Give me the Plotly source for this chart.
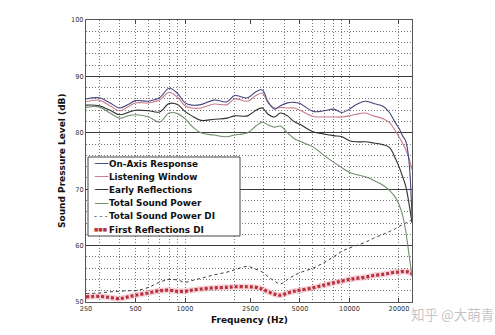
import plotly.graph_objects as go

# ---------------- data ----------------
freq = [250, 300, 350, 400, 450, 500, 600, 700, 800, 900, 1000, 1100, 1250, 1500,
        1800, 2000, 2400, 2700, 2950, 3200, 3500, 3800, 4200, 4600, 5000, 6000,
        7000, 8000, 9000, 10000, 11000, 12500, 14000, 16000, 17500, 19000, 20000,
        21000, 22000, 23000, 24000]

on_axis = [86.0, 86.2, 85.3, 84.4, 85.0, 85.7, 85.6, 86.2, 87.9, 87.0, 85.3, 84.9,
           85.0, 85.8, 85.5, 86.6, 86.2, 87.3, 87.6, 85.5, 84.2, 84.8, 85.3, 85.4,
           85.2, 83.8, 83.9, 84.2, 83.6, 84.2, 85.0, 85.6, 85.2, 84.7, 83.6, 81.8,
           80.8, 79.5, 78.5, 75.0, 65.0]

listening_window = [85.5, 85.8, 84.8, 83.9, 84.6, 85.3, 85.3, 85.8, 87.2, 86.3, 84.8,
                    84.4, 84.4, 85.1, 85.0, 86.0, 85.6, 86.6, 87.0, 85.3, 84.4, 84.5,
                    84.4, 84.4, 84.0, 82.9, 82.8, 82.8, 82.8, 83.0, 83.3, 83.5, 83.0,
                    82.5, 81.8, 80.4, 79.3, 78.2, 77.0, 75.5, 73.5]

early_reflections = [84.9, 84.8, 84.0, 83.2, 83.6, 84.0, 83.9, 83.7, 85.2, 85.0, 83.8,
                     83.0, 82.2, 82.4, 82.6, 83.0, 83.0, 84.0, 84.4, 83.3, 82.8, 83.5,
                     83.0, 82.0, 81.5, 80.2, 79.8, 79.5, 79.3, 78.6, 78.4, 78.4, 78.2,
                     77.9, 77.4, 75.5, 74.0, 72.3, 70.5, 67.5, 64.0]

total_sound_power = [84.5, 84.6, 83.5, 82.6, 83.0, 83.2, 82.8, 81.9, 83.5, 83.4, 82.5,
                     81.2, 80.0, 79.6, 79.3, 79.6, 80.0, 81.2, 81.9, 81.4, 81.0, 81.2,
                     80.0, 79.0, 78.5, 77.5, 76.0, 74.8, 73.8, 73.0, 72.6, 72.2, 71.6,
                     70.7, 69.8, 68.6, 67.3, 65.5, 62.5, 58.5, 54.5]

total_sound_power_di = [51.5, 51.6, 51.8, 51.9, 52.0, 52.0, 52.6, 53.5, 54.0, 53.9,
                        53.5, 53.8, 54.2, 54.8, 55.3, 55.7, 56.3, 55.8, 55.3, 54.5,
                        53.7, 53.2, 54.0, 54.7, 55.2, 56.0, 57.0, 58.0, 59.0, 59.6,
                        60.0, 60.6, 61.3, 62.0, 62.5, 63.0, 63.4, 63.7, 64.0, 64.3, 64.6]

first_reflections_di = [50.9, 51.0, 50.8, 50.6, 50.9, 51.2, 51.6, 52.0, 52.1, 51.9,
                        51.9, 52.1, 52.3, 52.5, 52.6, 52.7, 52.7, 52.6, 52.3, 51.8,
                        51.4, 51.2, 51.6, 51.9, 52.1, 52.5, 53.0, 53.4, 53.7, 54.0,
                        54.2, 54.4, 54.7, 54.9, 55.1, 55.3, 55.3, 55.4, 55.4, 55.3, 55.0]

x_tick_vals = [250, 500, 1000, 2500, 5000, 10000, 20000]
x_tick_text = ["250", "500", "1000", "2500", "5000", "10000", "20000"]
x_grid_vals = [300, 400, 500, 600, 700, 800, 900, 1000, 2000, 3000, 4000, 5000,
               6000, 7000, 8000, 9000, 10000, 20000]
y_tick_vals = [50, 60, 70, 80, 90, 100]

series_names = ["On-Axis Response", "Listening Window", "Early Reflections",
                "Total Sound Power", "Total Sound Power DI", "First Reflections DI"]

# ---------------- styling ----------------
C_ON = "#45477e"
C_LW = "#c87b8c"
C_ER = "#2e2e2e"
C_TSP = "#6f8f6a"
C_DI = "#3a3a3a"
C_FR = "#b8323e"
FONT = "DejaVu Sans"
GRID_MINOR = "#7a7a7a"

W, H = 495, 335
ML, MR, MT, MB = 86, 83, 20, 33
PW = W - ML - MR
PH = H - MT - MB


def px_x(px):
    return (px - ML) / PW


def px_y(py):
    return (H - MB - py) / PH


fig = go.Figure()

fig.add_trace(go.Scatter(x=freq, y=first_reflections_di, mode="lines", showlegend=False,
                         hoverinfo="skip",
                         line=dict(color="rgba(236,160,170,0.45)", width=6, shape="spline")))
fig.add_trace(go.Scatter(x=freq, y=first_reflections_di, mode="lines", name=series_names[5],
                         line=dict(color=C_FR, width=3.2, dash="3px,2px", shape="spline")))
fig.add_trace(go.Scatter(x=freq, y=total_sound_power_di, mode="lines", name=series_names[4],
                         line=dict(color=C_DI, width=1, dash="3px,3px", shape="spline")))
fig.add_trace(go.Scatter(x=freq, y=total_sound_power, mode="lines", name=series_names[3],
                         line=dict(color=C_TSP, width=1.1, shape="spline")))
fig.add_trace(go.Scatter(x=freq, y=early_reflections, mode="lines", name=series_names[2],
                         line=dict(color=C_ER, width=1.1, shape="spline")))
fig.add_trace(go.Scatter(x=freq, y=listening_window, mode="lines", name=series_names[1],
                         line=dict(color=C_LW, width=1.1, shape="spline")))
fig.add_trace(go.Scatter(x=freq, y=on_axis, mode="lines", name=series_names[0],
                         line=dict(color=C_ON, width=1.1, shape="spline")))

fig.update_layout(
    width=W, height=H,
    margin=dict(l=ML, r=MR, t=MT, b=MB, pad=0),
    paper_bgcolor="white", plot_bgcolor="white",
    showlegend=False,
    font=dict(family=FONT, size=6.6, color="#333333"),
    xaxis=dict(
        type="log", range=[2.39794, 4.38021],
        tickvals=x_tick_vals, ticktext=x_tick_text,
        ticks="inside", ticklen=4, tickcolor="#444444",
        showgrid=False, zeroline=False,
        showline=True, linecolor="#555555", linewidth=1.2, mirror="ticks",
        tickfont=dict(size=6.6, color="#333333"),
        minor=dict(tickvals=x_grid_vals, showgrid=True, gridcolor=GRID_MINOR,
                   griddash="1px,2px", gridwidth=1),
    ),
    yaxis=dict(
        range=[50, 100], tickvals=y_tick_vals,
        showgrid=True, gridcolor="#3c3c3c", gridwidth=1.4,
        zeroline=False, ticks="",
        showline=True, linecolor="#555555", linewidth=1.2, mirror=True,
        tickfont=dict(size=6.6, color="#333333"),
        minor=dict(dtick=2, showgrid=True, gridcolor=GRID_MINOR, griddash="1px,2px", gridwidth=1),
    ),
)

annotations = []
# axis titles
annotations.append(dict(text="<b>Frequency (Hz)</b>", xref="paper", yref="paper",
                        x=0.5, y=px_y(320), xanchor="center", yanchor="middle",
                        showarrow=False, font=dict(family=FONT, size=9, color="#111111")))
annotations.append(dict(text="<b>Sound Pressure Level (dB)</b>", xref="paper", yref="paper",
                        x=px_x(62), y=0.5, xanchor="center", yanchor="middle", textangle=-90,
                        showarrow=False, font=dict(family=FONT, size=9, color="#111111")))

# legend box drawn as text rows
legend_symbols = [("──", C_ON, 11), ("──", C_LW, 11), ("──", C_ER, 11), ("──", C_TSP, 11),
                  ("- - -", C_DI, 8), ("■■■", C_FR, 4.6)]
row_y0, row_dy = 163.5, 13.2
for i, (name, (sym, col, fs)) in enumerate(zip(series_names, legend_symbols)):
    yc = row_y0 + i * row_dy
    annotations.append(dict(text=sym, xref="paper", yref="paper", x=px_x(92), y=px_y(yc),
                            xanchor="left", yanchor="middle", showarrow=False,
                            font=dict(family=FONT, size=fs, color=col)))
    annotations.append(dict(text="<b>" + name + "</b>", xref="paper", yref="paper",
                            x=px_x(107), y=px_y(yc), xanchor="left", yanchor="middle",
                            showarrow=False, font=dict(family=FONT, size=8.8, color="#111111")))

# watermark
annotations.append(dict(text="知乎 @大萌青", xref="paper", yref="paper",
                        x=px_x(452), y=px_y(314), xanchor="center", yanchor="middle",
                        showarrow=False,
                        font=dict(family="Noto Sans CJK SC", size=13.5, color="rgba(185,185,185,0.85)")))

fig.update_layout(annotations=annotations)

fig.add_shape(type="rect", xref="paper", yref="paper",
              x0=px_x(88), x1=px_x(240), y0=px_y(236), y1=px_y(157),
              fillcolor="white", line=dict(color="#444444", width=1), layer="above")

fig.write_html("out.html")
